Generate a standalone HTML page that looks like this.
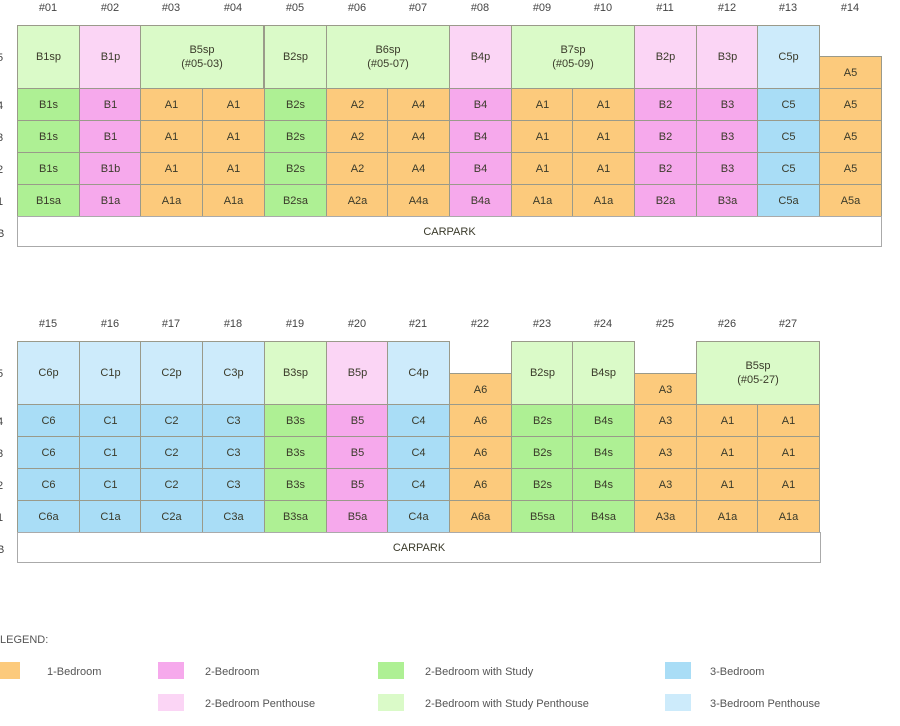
<!DOCTYPE html>
<html><head><meta charset="utf-8"><style>
body{margin:0;width:900px;height:726px;background:#fff;position:relative;overflow:hidden;font-family:"Liberation Sans",sans-serif;color:#3a3a2a}
.c{position:absolute;box-sizing:border-box;border:1px solid #9a9a8a;width:63px;height:33px;display:flex;align-items:center;justify-content:center;text-align:center;font-size:11px;line-height:14px}
.w{width:124px}
.o{background:#fcca7c}.g{background:#aef094}.lg{background:#dafac8}.p{background:#f6a9ec}.lp{background:#fbd5f5}.b{background:#a9ddf6}.lb{background:#cdebfb}
.h{position:absolute;width:62px;text-align:center;font-size:11px;color:#444}
.r{position:absolute;left:-3px;font-size:11px;color:#444}
.cp{position:absolute;box-sizing:border-box;border:1px solid #aaa;background:#fff;display:flex;align-items:center;justify-content:center;font-size:11px}
.sw{position:absolute;width:26px;height:17px}
.lt{position:absolute;font-size:11px;color:#555}
</style></head><body>
<div class="h" style="left:17px;top:2px">#01</div><div class="h" style="left:79px;top:2px">#02</div><div class="h" style="left:140px;top:2px">#03</div><div class="h" style="left:202px;top:2px">#04</div><div class="h" style="left:264px;top:2px">#05</div><div class="h" style="left:326px;top:2px">#06</div><div class="h" style="left:387px;top:2px">#07</div><div class="h" style="left:449px;top:2px">#08</div><div class="h" style="left:511px;top:2px">#09</div><div class="h" style="left:572px;top:2px">#10</div><div class="h" style="left:634px;top:2px">#11</div><div class="h" style="left:696px;top:2px">#12</div><div class="h" style="left:757px;top:2px">#13</div><div class="h" style="left:819px;top:2px">#14</div>
<div class="r" style="top:52px">5</div><div class="r" style="top:100px">4</div><div class="r" style="top:132px">3</div><div class="r" style="top:164px">2</div><div class="r" style="top:196px">1</div><div class="r" style="top:228px">B</div>
<div class="c lg" style="left:17px;top:25px;height:64px">B1sp</div>
<div class="c lp" style="left:79px;top:25px;height:64px">B1p</div>
<div class="c lg w" style="left:140px;top:25px;height:64px">B5sp<br>(#05-03)</div>
<div class="c lg" style="left:264px;top:25px;height:64px">B2sp</div>
<div class="c lg w" style="left:326px;top:25px;height:64px">B6sp<br>(#05-07)</div>
<div class="c lp" style="left:449px;top:25px;height:64px">B4p</div>
<div class="c lg w" style="left:511px;top:25px;height:64px">B7sp<br>(#05-09)</div>
<div class="c lp" style="left:634px;top:25px;height:64px">B2p</div>
<div class="c lp" style="left:696px;top:25px;height:64px">B3p</div>
<div class="c lb" style="left:757px;top:25px;height:64px">C5p</div>
<div class="c o" style="left:819px;top:56px">A5</div>
<div class="c g" style="left:17px;top:88px">B1s</div><div class="c g" style="left:17px;top:120px">B1s</div><div class="c g" style="left:17px;top:152px">B1s</div><div class="c g" style="left:17px;top:184px">B1sa</div>
<div class="c p" style="left:79px;top:88px">B1</div><div class="c p" style="left:79px;top:120px">B1</div><div class="c p" style="left:79px;top:152px">B1b</div><div class="c p" style="left:79px;top:184px">B1a</div>
<div class="c o" style="left:140px;top:88px">A1</div><div class="c o" style="left:140px;top:120px">A1</div><div class="c o" style="left:140px;top:152px">A1</div><div class="c o" style="left:140px;top:184px">A1a</div>
<div class="c o" style="left:202px;top:88px">A1</div><div class="c o" style="left:202px;top:120px">A1</div><div class="c o" style="left:202px;top:152px">A1</div><div class="c o" style="left:202px;top:184px">A1a</div>
<div class="c g" style="left:264px;top:88px">B2s</div><div class="c g" style="left:264px;top:120px">B2s</div><div class="c g" style="left:264px;top:152px">B2s</div><div class="c g" style="left:264px;top:184px">B2sa</div>
<div class="c o" style="left:326px;top:88px">A2</div><div class="c o" style="left:326px;top:120px">A2</div><div class="c o" style="left:326px;top:152px">A2</div><div class="c o" style="left:326px;top:184px">A2a</div>
<div class="c o" style="left:387px;top:88px">A4</div><div class="c o" style="left:387px;top:120px">A4</div><div class="c o" style="left:387px;top:152px">A4</div><div class="c o" style="left:387px;top:184px">A4a</div>
<div class="c p" style="left:449px;top:88px">B4</div><div class="c p" style="left:449px;top:120px">B4</div><div class="c p" style="left:449px;top:152px">B4</div><div class="c p" style="left:449px;top:184px">B4a</div>
<div class="c o" style="left:511px;top:88px">A1</div><div class="c o" style="left:511px;top:120px">A1</div><div class="c o" style="left:511px;top:152px">A1</div><div class="c o" style="left:511px;top:184px">A1a</div>
<div class="c o" style="left:572px;top:88px">A1</div><div class="c o" style="left:572px;top:120px">A1</div><div class="c o" style="left:572px;top:152px">A1</div><div class="c o" style="left:572px;top:184px">A1a</div>
<div class="c p" style="left:634px;top:88px">B2</div><div class="c p" style="left:634px;top:120px">B2</div><div class="c p" style="left:634px;top:152px">B2</div><div class="c p" style="left:634px;top:184px">B2a</div>
<div class="c p" style="left:696px;top:88px">B3</div><div class="c p" style="left:696px;top:120px">B3</div><div class="c p" style="left:696px;top:152px">B3</div><div class="c p" style="left:696px;top:184px">B3a</div>
<div class="c b" style="left:757px;top:88px">C5</div><div class="c b" style="left:757px;top:120px">C5</div><div class="c b" style="left:757px;top:152px">C5</div><div class="c b" style="left:757px;top:184px">C5a</div>
<div class="c o" style="left:819px;top:88px">A5</div><div class="c o" style="left:819px;top:120px">A5</div><div class="c o" style="left:819px;top:152px">A5</div><div class="c o" style="left:819px;top:184px">A5a</div>
<div class="cp" style="left:17px;top:216px;width:865px;height:31px">CARPARK</div>

<div class="h" style="left:17px;top:318px">#15</div><div class="h" style="left:79px;top:318px">#16</div><div class="h" style="left:140px;top:318px">#17</div><div class="h" style="left:202px;top:318px">#18</div><div class="h" style="left:264px;top:318px">#19</div><div class="h" style="left:326px;top:318px">#20</div><div class="h" style="left:387px;top:318px">#21</div><div class="h" style="left:449px;top:318px">#22</div><div class="h" style="left:511px;top:318px">#23</div><div class="h" style="left:572px;top:318px">#24</div><div class="h" style="left:634px;top:318px">#25</div><div class="h" style="left:696px;top:318px">#26</div><div class="h" style="left:757px;top:318px">#27</div>
<div class="r" style="top:368px">5</div><div class="r" style="top:416px">4</div><div class="r" style="top:448px">3</div><div class="r" style="top:480px">2</div><div class="r" style="top:512px">1</div><div class="r" style="top:544px">B</div>
<div class="c lb" style="left:17px;top:341px;height:64px">C6p</div>
<div class="c lb" style="left:79px;top:341px;height:64px">C1p</div>
<div class="c lb" style="left:140px;top:341px;height:64px">C2p</div>
<div class="c lb" style="left:202px;top:341px;height:64px">C3p</div>
<div class="c lg" style="left:264px;top:341px;height:64px">B3sp</div>
<div class="c lp" style="left:326px;top:341px;height:64px">B5p</div>
<div class="c lb" style="left:387px;top:341px;height:64px">C4p</div>
<div class="c o" style="left:449px;top:373px">A6</div>
<div class="c lg" style="left:511px;top:341px;height:64px">B2sp</div>
<div class="c lg" style="left:572px;top:341px;height:64px">B4sp</div>
<div class="c o" style="left:634px;top:373px">A3</div>
<div class="c lg w" style="left:696px;top:341px;height:64px">B5sp<br>(#05-27)</div>
<div class="c b" style="left:17px;top:404px">C6</div><div class="c b" style="left:17px;top:436px">C6</div><div class="c b" style="left:17px;top:468px">C6</div><div class="c b" style="left:17px;top:500px">C6a</div>
<div class="c b" style="left:79px;top:404px">C1</div><div class="c b" style="left:79px;top:436px">C1</div><div class="c b" style="left:79px;top:468px">C1</div><div class="c b" style="left:79px;top:500px">C1a</div>
<div class="c b" style="left:140px;top:404px">C2</div><div class="c b" style="left:140px;top:436px">C2</div><div class="c b" style="left:140px;top:468px">C2</div><div class="c b" style="left:140px;top:500px">C2a</div>
<div class="c b" style="left:202px;top:404px">C3</div><div class="c b" style="left:202px;top:436px">C3</div><div class="c b" style="left:202px;top:468px">C3</div><div class="c b" style="left:202px;top:500px">C3a</div>
<div class="c g" style="left:264px;top:404px">B3s</div><div class="c g" style="left:264px;top:436px">B3s</div><div class="c g" style="left:264px;top:468px">B3s</div><div class="c g" style="left:264px;top:500px">B3sa</div>
<div class="c p" style="left:326px;top:404px">B5</div><div class="c p" style="left:326px;top:436px">B5</div><div class="c p" style="left:326px;top:468px">B5</div><div class="c p" style="left:326px;top:500px">B5a</div>
<div class="c b" style="left:387px;top:404px">C4</div><div class="c b" style="left:387px;top:436px">C4</div><div class="c b" style="left:387px;top:468px">C4</div><div class="c b" style="left:387px;top:500px">C4a</div>
<div class="c o" style="left:449px;top:404px">A6</div><div class="c o" style="left:449px;top:436px">A6</div><div class="c o" style="left:449px;top:468px">A6</div><div class="c o" style="left:449px;top:500px">A6a</div>
<div class="c g" style="left:511px;top:404px">B2s</div><div class="c g" style="left:511px;top:436px">B2s</div><div class="c g" style="left:511px;top:468px">B2s</div><div class="c g" style="left:511px;top:500px">B5sa</div>
<div class="c g" style="left:572px;top:404px">B4s</div><div class="c g" style="left:572px;top:436px">B4s</div><div class="c g" style="left:572px;top:468px">B4s</div><div class="c g" style="left:572px;top:500px">B4sa</div>
<div class="c o" style="left:634px;top:404px">A3</div><div class="c o" style="left:634px;top:436px">A3</div><div class="c o" style="left:634px;top:468px">A3</div><div class="c o" style="left:634px;top:500px">A3a</div>
<div class="c o" style="left:696px;top:404px">A1</div><div class="c o" style="left:696px;top:436px">A1</div><div class="c o" style="left:696px;top:468px">A1</div><div class="c o" style="left:696px;top:500px">A1a</div>
<div class="c o" style="left:757px;top:404px">A1</div><div class="c o" style="left:757px;top:436px">A1</div><div class="c o" style="left:757px;top:468px">A1</div><div class="c o" style="left:757px;top:500px">A1a</div>
<div class="cp" style="left:17px;top:532px;width:804px;height:31px">CARPARK</div>

<div class="lt" style="left:0;top:634px">LEGEND:</div>
<div class="sw" style="left:-6px;top:662px;background:#fcca7c"></div><div class="lt" style="left:47px;top:666px">1-Bedroom</div>
<div class="sw" style="left:158px;top:662px;background:#f6a9ec"></div><div class="lt" style="left:205px;top:666px">2-Bedroom</div>
<div class="sw" style="left:378px;top:662px;background:#aef094"></div><div class="lt" style="left:425px;top:666px">2-Bedroom with Study</div>
<div class="sw" style="left:665px;top:662px;background:#a9ddf6"></div><div class="lt" style="left:710px;top:666px">3-Bedroom</div>
<div class="sw" style="left:158px;top:694px;background:#fbd5f5"></div><div class="lt" style="left:205px;top:698px">2-Bedroom Penthouse</div>
<div class="sw" style="left:378px;top:694px;background:#dafac8"></div><div class="lt" style="left:425px;top:698px">2-Bedroom with Study Penthouse</div>
<div class="sw" style="left:665px;top:694px;background:#cdebfb"></div><div class="lt" style="left:710px;top:698px">3-Bedroom Penthouse</div>
</body></html>
